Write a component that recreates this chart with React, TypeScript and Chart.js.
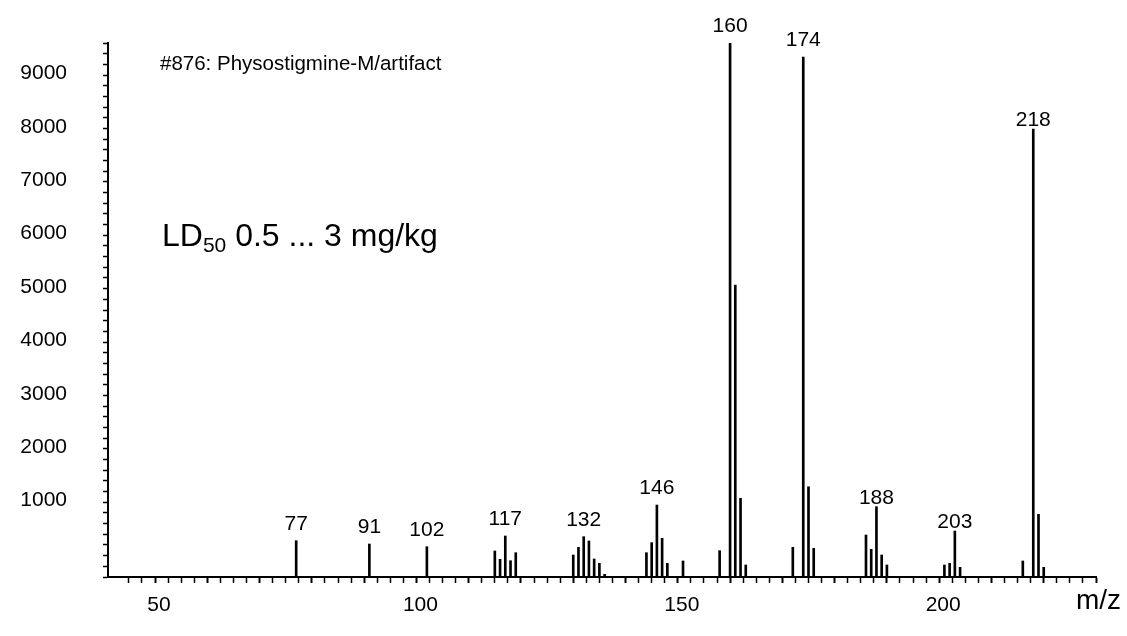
import React, { useEffect, useRef } from "react";
import { Chart, registerables } from "chart.js";

Chart.register(...registerables);

// m/z values of the peaks
const MZ = [
  77, 91, 102,
  115, 116, 117, 118, 119,
  130, 131, 132, 133, 134, 135, 136,
  144, 145, 146, 147, 148,
  151, 158,
  160, 161, 162, 163,
  172, 174, 175, 176,
  186, 187, 188, 189, 190,
  201, 202, 203, 204,
  216, 218, 219, 220,
];
// abundances
const INTENSITY = [
  680, 618, 567,
  487, 331, 768, 305, 455,
  412, 556, 755, 674, 337, 256, 50,
  455, 643, 1348, 724, 256,
  300, 493,
  9999, 5468, 1474, 225,
  556, 9738, 1690, 537,
  786, 518, 1317, 412, 225,
  225, 256, 861, 181,
  300, 8390, 1174, 181,
];
const LABELED_PEAKS = [77, 91, 102, 117, 132, 146, 160, 174, 188, 203, 218];
const X_TICK_LABELS = [50, 100, 150, 200];
const Y_TICK_LABELS = [1000, 2000, 3000, 4000, 5000, 6000, 7000, 8000, 9000];

const TITLE = "#876: Physostigmine-M/artifact";
const LD_MAIN = "LD";
const LD_SUB = "50";
const LD_REST = " 0.5 ... 3 mg/kg";
const X_UNIT = "m/z";

const FONT = '"Liberation Sans", Arial, sans-serif';
const LABEL_GAP_SMALL = new Set([188, 203, 218]);

const textPlugin = {
  id: "textPlugin",
  afterDatasetsDraw(chart: any) {
    const { ctx, chartArea, scales } = chart;
    const xs = scales.x;
    const ys = scales.y;
    ctx.save();
    ctx.fillStyle = "#000";
    // peak labels
    ctx.font = `21px ${FONT}`;
    ctx.textAlign = "center";
    ctx.textBaseline = "alphabetic";
    LABELED_PEAKS.forEach((m) => {
      const i = MZ.indexOf(m);
      if (i < 0) return;
      const px = xs.getPixelForValue(m);
      const py = ys.getPixelForValue(INTENSITY[i]);
      const gap = LABEL_GAP_SMALL.has(m) ? 3 : 11;
      ctx.fillText(String(m), px, py - gap);
    });
    // title
    ctx.textAlign = "left";
    ctx.font = `20.5px ${FONT}`;
    ctx.fillText(TITLE, chartArea.left + 52, chartArea.top + 27);
    // LD50
    const lx = chartArea.left + 54;
    const ly = chartArea.top + 203;
    ctx.font = `32px ${FONT}`;
    ctx.fillText(LD_MAIN, lx, ly);
    let w = ctx.measureText(LD_MAIN).width;
    ctx.font = `21px ${FONT}`;
    ctx.fillText(LD_SUB, lx + w, ly + 6);
    w += ctx.measureText(LD_SUB).width;
    ctx.font = `32px ${FONT}`;
    ctx.fillText(LD_REST, lx + w, ly);
    // axis unit
    ctx.textAlign = "right";
    ctx.font = `28px ${FONT}`;
    ctx.fillText(X_UNIT, chartArea.right + 25, chartArea.bottom + 32);
    ctx.restore();
  },
};

export default function App() {
  const ref = useRef<HTMLCanvasElement | null>(null);
  useEffect(() => {
    if (!ref.current) return;
    const chart = new Chart(ref.current, {
      type: "bar",
      data: {
        datasets: [
          {
            data: MZ.map((m, i) => ({ x: m, y: INTENSITY[i] })),
            backgroundColor: "#000",
            borderWidth: 0,
            barThickness: 2,
          },
        ],
      },
      options: {
        animation: false,
        responsive: false,
        maintainAspectRatio: false,
        layout: { padding: { top: 43, right: 31, left: 0, bottom: 0 } },
        plugins: { legend: { display: false }, tooltip: { enabled: false } },
        scales: {
          x: {
            type: "linear",
            min: 41,
            max: 230,
            offset: false,
            grid: {
              offset: false,
              drawOnChartArea: false,
              drawTicks: true,
              tickLength: 6,
              tickColor: "#000",
              tickWidth: (c: any) => (c.tick && c.tick.value % 10 === 0 ? 2 : 1.5),
            },
            border: { color: "#000", width: 2 },
            ticks: {
              stepSize: 2.5,
              autoSkip: false,
              maxRotation: 0,
              minRotation: 0,
              padding: 10,
              labelOffset: 4,
              color: "#000",
              font: { family: FONT, size: 21 },
              callback: (v: any) => (X_TICK_LABELS.includes(Number(v)) ? String(v) : ""),
            },
            afterBuildTicks: (s: any) => {
              s.ticks = s.ticks.filter((t: any) => Math.abs(t.value / 2.5 - Math.round(t.value / 2.5)) < 1e-6);
            },
            afterFit: (s: any) => {
              s.height = 59;
              s.paddingLeft = 0;
              s.paddingRight = 0;
            },
          } as any,
          y: {
            min: 0,
            max: 10000,
            grid: {
              drawOnChartArea: false,
              drawTicks: true,
              tickLength: 5,
              tickColor: "#000",
              tickWidth: 1.5,
            },
            border: { color: "#000", width: 2 },
            ticks: {
              stepSize: 200,
              autoSkip: false,
              padding: 36,
              labelOffset: -23,
              color: "#000",
              font: { family: FONT, size: 21 },
              callback: (v: any) => (Y_TICK_LABELS.includes(Number(v)) ? String(v) : ""),
            },
            afterFit: (s: any) => {
              s.width = 108;
              s.paddingTop = 0;
              s.paddingBottom = 0;
            },
          } as any,
        },
      },
      plugins: [textPlugin],
    });
    return () => chart.destroy();
  }, []);
  return (
    <div style={{ position: "fixed", left: 0, top: 0, width: 1127, height: 636, background: "#fff" }}>
      <canvas ref={ref} width={1127} height={636} style={{ width: 1127, height: 636, display: "block" }} />
    </div>
  );
}
